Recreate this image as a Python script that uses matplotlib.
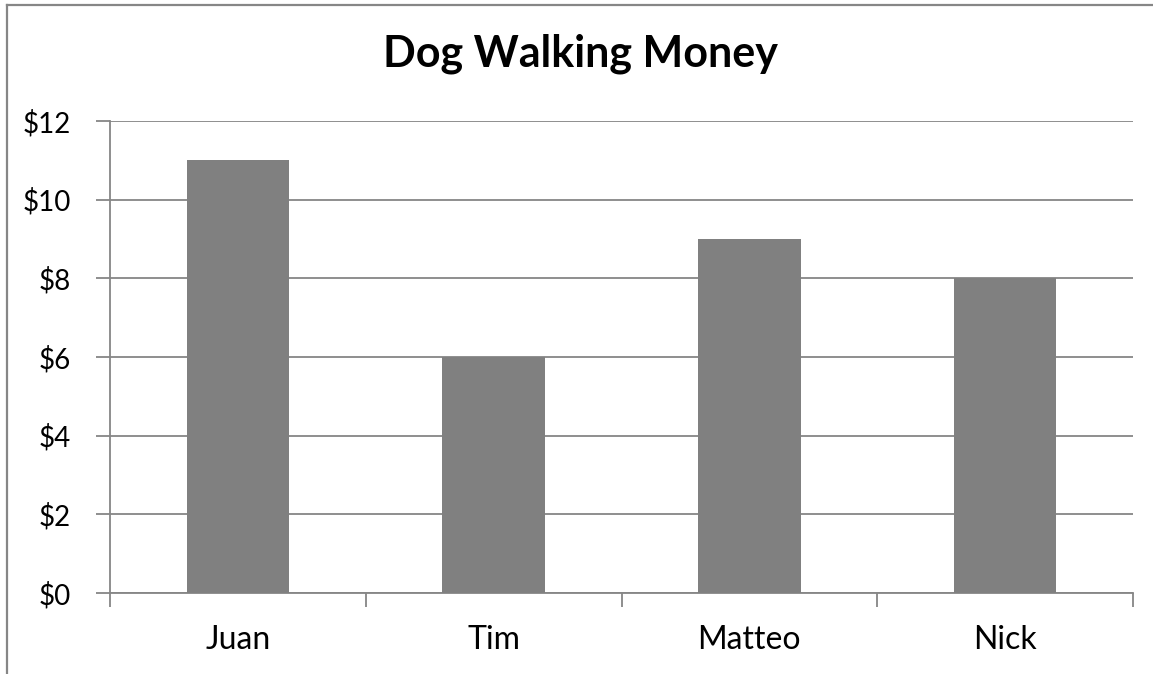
import numpy as np
import matplotlib.pyplot as plt
from matplotlib.lines import Line2D

names = ['Juan', 'Tim', 'Matteo', 'Nick']
money = [11, 6, 9, 8]
yticks = [0, 2, 4, 6, 8, 10, 12]

plt.rcParams['font.family'] = ['Lato', 'DejaVu Sans']
grey = '#868686'

fig = plt.figure(figsize=(11.53, 6.74), dpi=100)
ax = fig.add_axes([110/1153, 81/674, 1023/1153, 472/674])

x = np.arange(len(names))
ax.bar(x, money, width=0.4, color='#808080', zorder=3)

ax.set_xlim(-0.5, len(names) - 0.5)
ax.set_ylim(0, 12)
ax.set_yticks(yticks)
ax.set_yticklabels(['$%d' % v for v in yticks], fontsize=20)
ax.set_xticks(x)
ax.set_xticklabels(names, fontsize=23)
ax.set_xticks(np.arange(len(names) + 1) - 0.5, minor=True)
ax.tick_params(axis='x', which='major', length=0, pad=23)
ax.tick_params(axis='x', which='minor', length=10, width=1.3, color=grey)
ax.tick_params(axis='y', length=10, width=1.3, color=grey, pad=18)
ax.yaxis.grid(True, color=grey, lw=1.3, zorder=0)

for s in ['top', 'right']:
    ax.spines[s].set_visible(False)
for s in ['left', 'bottom']:
    ax.spines[s].set_color(grey)
    ax.spines[s].set_linewidth(1.3)

# title is centred on the whole chart box, not the plot area
fig.suptitle('Dog Walking Money', x=580/1153, y=1 - 67/674, va='baseline',
             fontsize=31, fontweight='bold')

# chart border (cropped on right and bottom)
fig.add_artist(Line2D([7/1153, 7/1153], [0, 1 - 5/674], transform=fig.transFigure, color=grey, lw=1.6))
fig.add_artist(Line2D([7/1153, 1], [1 - 5/674, 1 - 5/674], transform=fig.transFigure, color=grey, lw=1.6))

fig.savefig('out.png', dpi=100)
